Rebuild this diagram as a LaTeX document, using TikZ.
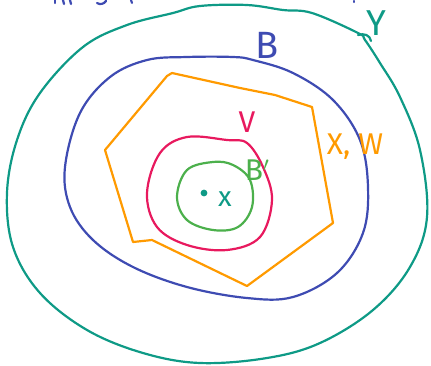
\documentclass[tikz,border=0pt]{standalone}
\usepackage{fontspec}
\setmainfont{Fira Sans}
\definecolor{teal1}{HTML}{0E9A86}
\definecolor{blue1}{HTML}{3E4BB2}
\definecolor{orange1}{HTML}{FF9A00}
\definecolor{red1}{HTML}{E8195E}
\definecolor{green1}{HTML}{4CB04C}
\begin{document}
\begin{tikzpicture}[x=1pt,y=-1pt,line cap=round,line join=round,
  pen/.style={line width=2.2pt},
  lbl/.style={inner sep=0pt,font=\fontsize{#1}{#1}\selectfont},
  lbl/.default=30]
\useasboundingbox (0,0) rectangle (431,365);
% outer teal curve
\draw[pen,teal1] plot[smooth cycle,tension=0.6] coordinates {
 (358,33) (312,13) (283,10) (247,5) (200,6) (173,13) (127,25) (83,47) (40,93)
 (17,140) (7,193) (13,247) (40,293) (87,330) (143,353) (200,363) (267,358)
 (320,343) (373,310) (410,267) (427,217) (420,150) (400,97) (380,63) (365,40)};
\draw[pen,teal1] (358,35) .. controls (364,33) and (370,35) .. (371,41);
% blue B
\draw[pen,blue1] plot[smooth cycle,tension=0.6] coordinates {
 (233,57) (187,57) (147,60) (110,77) (80,113) (65,167) (70,207) (93,240)
 (133,267) (187,287) (247,298) (293,297) (337,273) (363,233) (368,187)
 (360,140) (333,100) (293,73) (253,60)};
% orange polygon
\draw[pen,orange1] (172,73) -- (167,76) -- (105,150) -- (133,242) -- (152,240)
 -- (247,286) -- (333,223) -- (312,107) -- (275,95) -- (240,88) -- cycle;
% red V
\draw[pen,red1] plot[smooth cycle,tension=0.6] coordinates {
 (227,140) (187,137) (160,153) (147,193) (157,227) (187,245) (227,250)
 (260,237) (272,200) (263,167) (247,143)};
% green B'
\draw[pen,green1] plot[smooth cycle,tension=0.6] coordinates {
 (213,162) (187,170) (177,197) (187,220) (213,230) (238,227) (252,207)
 (250,180) (233,165)};
% point x
\fill[teal1] (204,193) circle (3.4pt);
% labels
\node[lbl=38,text=blue1] (lB) at (267,45) {B};
\node[lbl=36,text=teal1] (lY) at (376,23) {Y};
\node[lbl=30,text=red1] (lV) at (247,122) {V};
\node[lbl=30,text=orange1] (lXW) at (355,147) {X, W};
\node[lbl=30,text=green1] (lBp) at (257,170) {B$'$};
\node[lbl=28,text=teal1] (lx) at (225,199) {x};
% cut-off text fragments at top
\draw[pen,blue1] (55,0) -- (55,3);
\draw[pen,blue1] (63,0) -- (64,4) (70,0) -- (71,4);
\draw[pen,blue1] (97,3) .. controls (100,5) and (104,4) .. (106,1);
\draw[pen,blue1] (131,0) -- (132,3);
\draw[pen,blue1] (354,1) -- (354,2);
\end{tikzpicture}
\end{document}
